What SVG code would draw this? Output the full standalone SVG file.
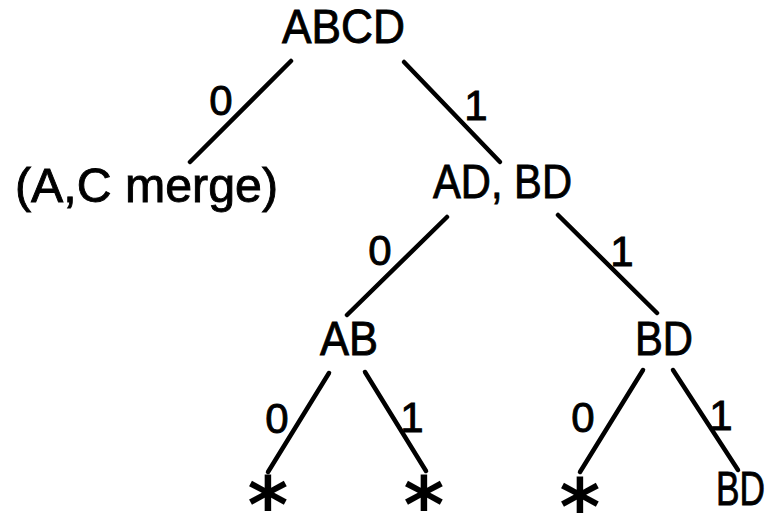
<svg xmlns="http://www.w3.org/2000/svg" width="774" height="518" viewBox="0 0 774 518">
<style>
.n{font-family:"Liberation Sans",Arial,sans-serif;fill:#000;stroke:#000;stroke-width:0.9;font-size:48px}
.lbl{font-family:"Liberation Sans",Arial,sans-serif;fill:#000;stroke:#000;stroke-width:0.9;font-size:42px;text-anchor:middle}
.ast{font-family:"DejaVu Sans",sans-serif;font-weight:bold;fill:#000;font-size:78px;text-anchor:middle}
.e{stroke:#000;stroke-width:4.5;stroke-linecap:round;fill:none}
</style>
<rect width="774" height="518" fill="#fff"/>
<g id="connectors">
<line class="e" x1="291" y1="61" x2="190" y2="162"/>
<line class="e" x1="404" y1="62" x2="500" y2="162"/>
<line class="e" x1="447" y1="217" x2="347" y2="315"/>
<line class="e" x1="558" y1="215" x2="657" y2="313"/>
<line class="e" x1="329" y1="373" x2="268" y2="472"/>
<line class="e" x1="365" y1="372" x2="426" y2="471"/>
<line class="e" x1="643" y1="370" x2="580" y2="472"/>
<line class="e" x1="673" y1="370" x2="738" y2="470"/>
<text class="lbl" x="221" y="115">0</text>
<text class="lbl" x="476" y="120">1</text>
<text class="lbl" x="380" y="265">0</text>
<text class="lbl" x="622" y="266">1</text>
<text class="lbl" x="277" y="433">0</text>
<text class="lbl" x="412" y="432">1</text>
<text class="lbl" x="583" y="432">0</text>
<text class="lbl" x="721" y="430">1</text>
</g>
<g id="n-abcd"><text class="n" x="282" y="43" textLength="123" lengthAdjust="spacingAndGlyphs">ABCD</text></g>
<g id="n-acmerge"><text class="n" x="15" y="202" textLength="263" lengthAdjust="spacingAndGlyphs">(A,C merge)</text></g>
<g id="n-adbd"><text class="n" x="433" y="198" textLength="139" lengthAdjust="spacingAndGlyphs">AD, BD</text></g>
<g id="n-ab"><text class="n" x="320" y="355" textLength="58" lengthAdjust="spacingAndGlyphs">AB</text></g>
<g id="n-bd1"><text class="n" x="635" y="355" textLength="58" lengthAdjust="spacingAndGlyphs">BD</text></g>
<g id="n-star1"><text class="ast" x="268" y="533">*</text></g>
<g id="n-star2"><text class="ast" x="424" y="533">*</text></g>
<g id="n-star3"><text class="ast" x="580" y="535">*</text></g>
<g id="n-bd2"><text class="n" x="716" y="505" font-size="40" textLength="49" lengthAdjust="spacingAndGlyphs">BD</text></g>
</svg>
